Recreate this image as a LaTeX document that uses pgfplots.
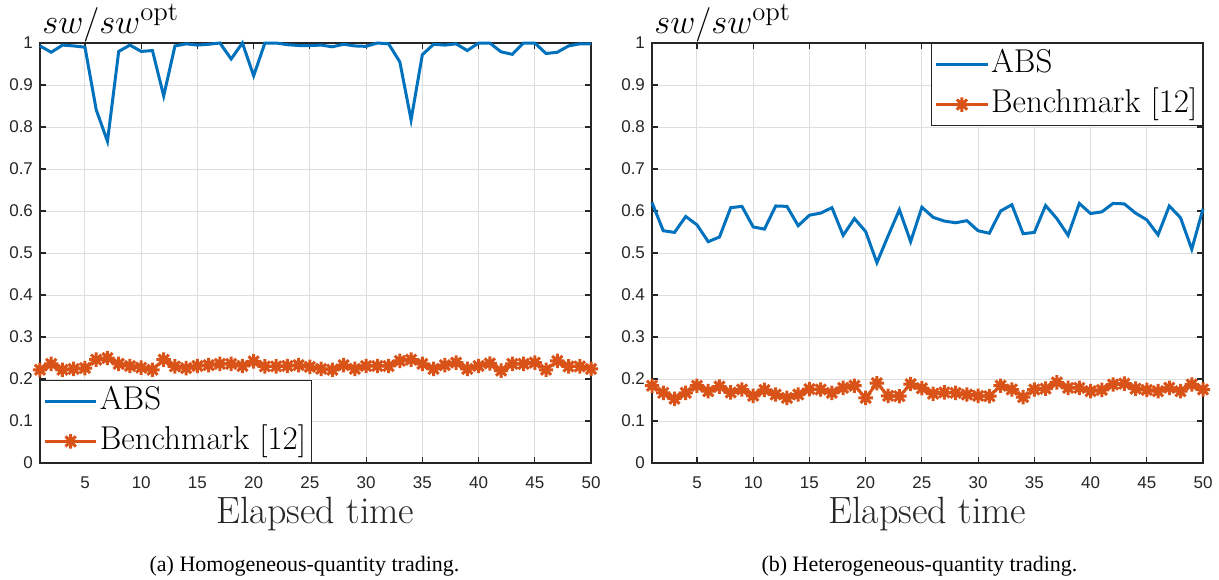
\documentclass[border=0pt]{standalone}
\usepackage{pgfplots}
\pgfplotsset{compat=1.18}
\usepackage{fontspec}
\newfontfamily\ticksf{Liberation Sans}
\newfontfamily\capf{Liberation Serif}
\definecolor{mblue}{rgb}{0,0.447,0.741}
\definecolor{morange}{rgb}{0.85,0.325,0.098}
\definecolor{axgray}{rgb}{0.15,0.15,0.15}
\definecolor{gridgray}{rgb}{0.87,0.87,0.87}

\pgfdeclareplotmark{mstar}{%
  \pgfpathmoveto{\pgfpoint{0pt}{\pgfplotmarksize}}\pgfpathlineto{\pgfpoint{0pt}{-\pgfplotmarksize}}%
  \pgfpathmoveto{\pgfpoint{\pgfplotmarksize}{0pt}}\pgfpathlineto{\pgfpoint{-\pgfplotmarksize}{0pt}}%
  \pgfpathmoveto{\pgfpoint{0.7071\pgfplotmarksize}{0.7071\pgfplotmarksize}}\pgfpathlineto{\pgfpoint{-0.7071\pgfplotmarksize}{-0.7071\pgfplotmarksize}}%
  \pgfpathmoveto{\pgfpoint{0.7071\pgfplotmarksize}{-0.7071\pgfplotmarksize}}\pgfpathlineto{\pgfpoint{-0.7071\pgfplotmarksize}{0.7071\pgfplotmarksize}}%
  \pgfusepathqstroke}

\pgfplotsset{
  mystyle/.style={
    scale only axis, width=275.5pt, height=210pt,
    xmin=1, xmax=50, ymin=0, ymax=1,
    xtick={5,10,...,50}, ytick={0,0.1,...,1},
    grid=major, major grid style={gridgray, line width=0.5pt},
    axis line style={axgray, line width=0.6pt},
    tick style={axgray, line width=0.6pt}, major tick length=3pt,
    tick label style={font=\ticksf\fontsize{8.5}{8.5}\selectfont, text=axgray},
    xticklabel style={yshift=-3.5pt},
    /pgf/number format/assume math mode=true,
    yticklabel style={/pgf/number format/fixed, /pgf/number format/precision=1},
    xlabel={Elapsed time},
    xlabel style={font=\fontsize{19}{19}\selectfont, text=axgray, at={(axis description cs:0.5,0)}, anchor=center, yshift=-25.5pt},
    legend cell align=left,
    legend style={font=\fontsize{16.5}{16.5}\selectfont, draw=axgray, line width=0.6pt, inner xsep=1.5pt, inner ysep=1.5pt, row sep=2pt, nodes={inner sep=1pt, text height=12pt, text depth=4pt}},
    legend image code/.code={\draw[mark repeat=2,mark phase=2] plot coordinates {(0cm,0cm) (0.45cm,0cm) (0.9cm,0cm)};},
    clip=false,
  },
  absstyle/.style={mblue, line width=1.5pt},
  benchstyle/.style={morange, line width=1.5pt, mark=mstar, mark size=3.6pt, mark options={line width=1.5pt}},
}

\pgfplotstableread{
x y
1 0.993
2 0.978
3 0.995
4 0.993
5 0.990
6 0.841
7 0.766
8 0.980
9 0.995
10 0.980
11 0.982
12 0.874
13 0.993
14 0.998
15 0.995
16 0.997
17 1.000
18 0.962
19 1.000
20 0.922
21 1.000
22 1.000
23 0.996
24 0.994
25 0.994
26 0.995
27 0.991
28 0.997
29 0.993
30 0.992
31 1.000
32 0.998
33 0.955
34 0.817
35 0.972
36 0.997
37 0.995
38 0.998
39 0.982
40 1.000
41 1.000
42 0.979
43 0.973
44 1.000
45 1.000
46 0.975
47 0.978
48 0.993
49 0.998
50 0.998
}\absA

\pgfplotstableread{
x y
1 0.222
2 0.236
3 0.222
4 0.224
5 0.226
6 0.246
7 0.250
8 0.236
9 0.231
10 0.227
11 0.222
12 0.246
13 0.230
14 0.226
15 0.231
16 0.233
17 0.236
18 0.236
19 0.231
20 0.242
21 0.230
22 0.230
23 0.231
24 0.233
25 0.229
26 0.224
27 0.222
28 0.233
29 0.224
30 0.231
31 0.231
32 0.231
33 0.243
34 0.246
35 0.236
36 0.224
37 0.233
38 0.239
39 0.224
40 0.231
41 0.237
42 0.220
43 0.236
44 0.236
45 0.239
46 0.222
47 0.243
48 0.230
49 0.230
50 0.224
}\benchA

\pgfplotstableread{
x y
1 0.620
2 0.553
3 0.549
4 0.587
5 0.567
6 0.527
7 0.538
8 0.608
9 0.611
10 0.562
11 0.557
12 0.612
13 0.611
14 0.565
15 0.590
16 0.595
17 0.608
18 0.542
19 0.582
20 0.551
21 0.477
22 0.541
23 0.603
24 0.527
25 0.609
26 0.585
27 0.576
28 0.572
29 0.577
30 0.553
31 0.547
32 0.600
33 0.615
34 0.546
35 0.549
36 0.613
37 0.582
38 0.542
39 0.618
40 0.594
41 0.598
42 0.618
43 0.617
44 0.595
45 0.579
46 0.543
47 0.612
48 0.584
49 0.509
50 0.605
}\absB

\pgfplotstableread{
x y
1 0.184
2 0.167
3 0.153
4 0.167
5 0.184
6 0.171
7 0.182
8 0.168
9 0.175
10 0.160
11 0.174
12 0.163
13 0.155
14 0.163
15 0.176
16 0.175
17 0.167
18 0.179
19 0.184
20 0.155
21 0.190
22 0.160
23 0.159
24 0.188
25 0.178
26 0.165
27 0.168
28 0.167
29 0.163
30 0.160
31 0.159
32 0.184
33 0.175
34 0.157
35 0.175
36 0.177
37 0.192
38 0.179
39 0.179
40 0.171
41 0.174
42 0.187
43 0.189
44 0.177
45 0.174
46 0.171
47 0.179
48 0.171
49 0.187
50 0.175
}\benchB

\begin{document}
\begin{tikzpicture}
\begin{axis}[mystyle, at={(0pt,0pt)}, anchor=south west,
  legend style={at={(0,0)}, anchor=south west}]
  \addplot[absstyle] table[x=x,y=y] {\absA};
  \addlegendentry{ABS}
  \addplot[benchstyle] table[x=x,y=y] {\benchA};
  \addlegendentry{Benchmark [12]}
  \node[anchor=base west, font=\fontsize{19}{19}\selectfont, text=black, inner sep=0pt] at (rel axis cs:0,1) [yshift=5pt, xshift=1pt] {$sw/sw^{\mathrm{opt}}$};
  \node[anchor=center, font=\capf\fontsize{11}{11}\selectfont, inner sep=0pt] at (rel axis cs:0.5,0) [yshift=-51.5pt, xshift=-5.5pt] {(a) Homogeneous-quantity trading.};
\end{axis}
\begin{axis}[mystyle, at={(306pt,0pt)}, anchor=south west,
  legend style={at={(1,1)}, anchor=north east}]
  \addplot[absstyle] table[x=x,y=y] {\absB};
  \addlegendentry{ABS}
  \addplot[benchstyle] table[x=x,y=y] {\benchB};
  \addlegendentry{Benchmark [12]}
  \node[anchor=base west, font=\fontsize{19}{19}\selectfont, text=black, inner sep=0pt] at (rel axis cs:0,1) [yshift=5pt, xshift=1pt] {$sw/sw^{\mathrm{opt}}$};
  \node[anchor=center, font=\capf\fontsize{11}{11}\selectfont, inner sep=0pt] at (rel axis cs:0.5,0) [yshift=-51.5pt, xshift=-4pt] {(b) Heterogeneous-quantity trading.};
\end{axis}
\pgfresetboundingbox
\path[use as bounding box] (-20pt,-58pt) rectangle (589.5pt,231.5pt);
\end{tikzpicture}
\end{document}
